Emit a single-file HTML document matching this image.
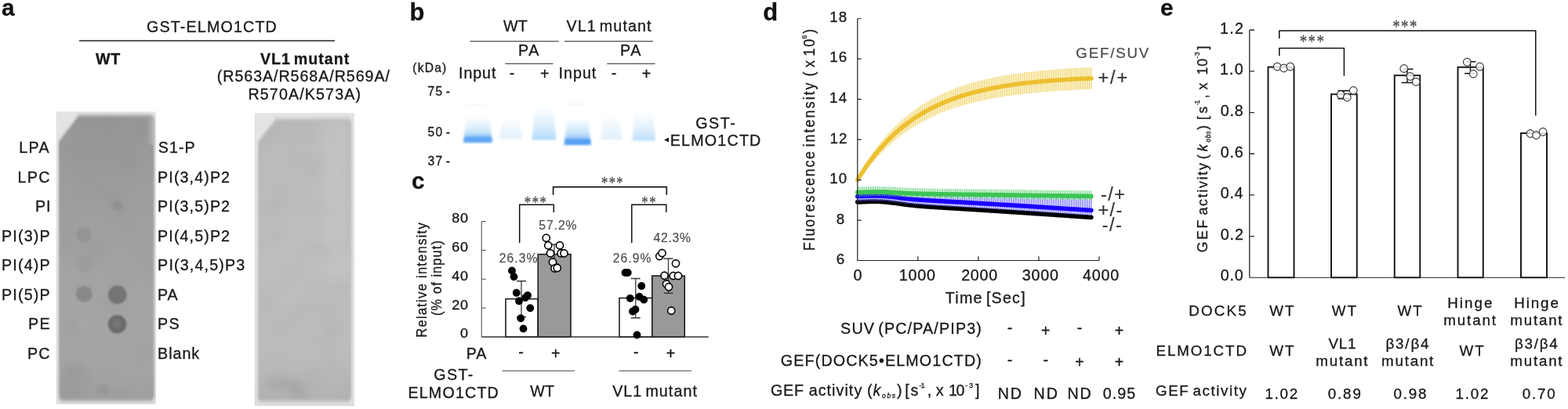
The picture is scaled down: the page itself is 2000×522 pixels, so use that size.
<!DOCTYPE html>
<html lang="en"><head><meta charset="utf-8"><title>Figure</title>
<style>
html,body{margin:0;padding:0;background:#fff;}
body{width:2000px;height:522px;overflow:hidden;}
svg{display:block;font-family:"Liberation Sans",sans-serif;}
svg text{fill:#1a1717;stroke:#1a1717;stroke-width:0.3px;}
svg text{white-space:pre;}
</style></head><body>
<svg width="2000" height="522" viewBox="0 0 2000 522">
<defs>
<filter id="b1" x="-5%" y="-5%" width="110%" height="110%"><feGaussianBlur stdDeviation="0.5"/></filter>
<filter id="b2" x="-8%" y="-5%" width="116%" height="110%"><feGaussianBlur stdDeviation="1.2 2"/></filter>
<filter id="b3" x="-20%" y="-20%" width="140%" height="140%"><feGaussianBlur stdDeviation="1.2"/></filter>
<filter id="b4" x="-40%" y="-40%" width="180%" height="180%"><feGaussianBlur stdDeviation="6"/></filter>
<filter id="nz" x="0" y="0" width="100%" height="100%"><feTurbulence type="fractalNoise" baseFrequency="0.03" numOctaves="1" seed="7"/><feColorMatrix type="matrix" values="2.2 0 0 0 -0.6  2.2 0 0 0 -0.6  2.2 0 0 0 -0.6  0 0 0 0 1"/></filter>
<clipPath id="cp1"><path d="M102 149H193.5V509.5H78V182Z"/></clipPath><clipPath id="cp2"><path d="M354 154H445V510H331.5V183Z"/></clipPath>
<linearGradient id="gOut" x1="0" y1="0" x2="0" y2="1"><stop offset="0" stop-color="#e3e5e4"/><stop offset="1" stop-color="#dedede"/></linearGradient>
<linearGradient id="gEdge" x1="0" y1="0" x2="1" y2="0"><stop offset="0" stop-color="#b5b5b5" stop-opacity="0"/><stop offset="1" stop-color="#c4c4c4" stop-opacity="0.8"/></linearGradient>
<linearGradient id="gR2" x1="0" y1="0" x2="1" y2="0"><stop offset="0" stop-color="#bfbfbf" stop-opacity="0"/><stop offset="0.5" stop-color="#c4c4c4" stop-opacity="0.7"/><stop offset="1" stop-color="#c4c4c4" stop-opacity="0.7"/></linearGradient>
<linearGradient id="gA1" x1="0" y1="0" x2="0" y2="1"><stop offset="0" stop-color="#969696"/><stop offset="0.3" stop-color="#9d9d9d"/><stop offset="0.62" stop-color="#a4a4a4"/><stop offset="0.88" stop-color="#a4a4a4"/><stop offset="1" stop-color="#9e9e9e"/></linearGradient>
<linearGradient id="gA2" x1="0" y1="0" x2="0" y2="1"><stop offset="0" stop-color="#b9b9b9"/><stop offset="0.5" stop-color="#bdbdbd"/><stop offset="0.85" stop-color="#bababa"/><stop offset="1" stop-color="#b2b2b2"/></linearGradient>

<filter id="gb" x="-20%" y="-20%" width="140%" height="140%"><feGaussianBlur stdDeviation="1.5"/></filter>
<filter id="gb2" x="-20%" y="-80%" width="140%" height="260%"><feGaussianBlur stdDeviation="1.3 1.7"/></filter>
<linearGradient id="gl1" x1="0" y1="0" x2="0" y2="1"><stop offset="0" stop-color="#e8f4fd" stop-opacity="0"/><stop offset="0.35" stop-color="#e2f1fc" stop-opacity="0.9"/><stop offset="0.6" stop-color="#c9e4fb"/><stop offset="0.76" stop-color="#a0cdf9"/><stop offset="0.86" stop-color="#72b2f6"/><stop offset="1" stop-color="#5aa2f5"/></linearGradient>
<linearGradient id="gl4" x1="0" y1="0" x2="0" y2="1"><stop offset="0" stop-color="#e8f4fd" stop-opacity="0"/><stop offset="0.3" stop-color="#e2f1fc" stop-opacity="0.9"/><stop offset="0.58" stop-color="#c5e2fb"/><stop offset="0.76" stop-color="#98c8f8"/><stop offset="0.86" stop-color="#69adf6"/><stop offset="1" stop-color="#4f9bf4"/></linearGradient>
<linearGradient id="gl2" x1="0" y1="0" x2="0" y2="1"><stop offset="0" stop-color="#e8f4fd" stop-opacity="0"/><stop offset="0.5" stop-color="#e4f2fc" stop-opacity="0.85"/><stop offset="1" stop-color="#d3eafb"/></linearGradient>
<linearGradient id="gl3" x1="0" y1="0" x2="0" y2="1"><stop offset="0" stop-color="#e8f4fd" stop-opacity="0"/><stop offset="0.45" stop-color="#deeffc" stop-opacity="0.8"/><stop offset="0.85" stop-color="#bddffa"/><stop offset="1" stop-color="#a4d2f8"/></linearGradient>
</defs>
<rect width="2000" height="522" fill="#fff"/>
<text x="2.11" y="20" font-size="29.8" font-weight="bold" letter-spacing="-0.44" style="fill:#111;stroke:#111">a</text>
<text x="187.01" y="40.6" font-size="19.7" letter-spacing="1.15">GST-ELMO1CTD</text>
<path d="M101 52L427 52" stroke="#222" stroke-width="1.3" fill="none"/>
<text x="122" y="81.6" font-size="19.7" font-weight="bold" letter-spacing="0.56">WT</text>
<text x="331.9" y="81.6" font-size="19.7" font-weight="bold" letter-spacing="0.96" word-spacing="-2.5">VL1 mutant</text>
<text x="276.82" y="104.1" font-size="19.7" letter-spacing="0.92">(R563A/R568A/R569A/</text>
<text x="316.42" y="126.6" font-size="19.7" letter-spacing="1.12">R570A/K573A)</text>
<rect x="71.5" y="142.5" width="127.5" height="373.5" fill="url(#gOut)" filter="url(#b1)"/>
<path d="M100.5 147H190Q196.6 147 196.6 153V506Q196.6 511.5 190 511.5H81Q75 511.5 75 506V180.5Z" fill="url(#gA1)" filter="url(#b2)"/>
<rect x="186" y="149" width="11" height="36" fill="url(#gEdge)" filter="url(#b2)"/>
<g clip-path="url(#cp1)"><g filter="url(#b4)"><ellipse cx="95" cy="485" rx="22" ry="22" fill="#979797" opacity="0.6"/><ellipse cx="135" cy="185" rx="50" ry="25" fill="#929292" opacity="0.35"/></g></g>
<g filter="url(#b3)">
<circle cx="107" cy="300" r="10" fill="#909090" opacity="0.75"/>
<circle cx="107" cy="337" r="10.5" fill="#989898" opacity="0.6"/>
<circle cx="107.2" cy="375.2" r="10.5" fill="#878787" opacity="1"/>
<circle cx="149.8" cy="376.2" r="11.8" fill="#747474" opacity="1"/>
<circle cx="149.5" cy="413.8" r="11.8" fill="#6b6b6b" opacity="1"/>
<circle cx="149" cy="263" r="6.5" fill="#8e8e8e" opacity="0.7"/>
<circle cx="130.6" cy="497.3" r="8" fill="#939393" opacity="0.65"/>
<circle cx="106" cy="414.5" r="9" fill="#a8a8a8" opacity="0.3"/>
</g>
<g filter="url(#b3)"><circle cx="149" cy="413" r="6" fill="#7a7a7a" opacity="0.7"/><circle cx="149" cy="375.5" r="6" fill="#777" opacity="0.4"/></g>
<g clip-path="url(#cp1)"><rect x="74" y="145" width="124" height="369" filter="url(#nz)" opacity="0.02"/></g>
<rect x="324.6" y="144.2" width="127.4" height="374" fill="url(#gOut)" filter="url(#b1)"/>
<path d="M352 151.5H442Q448 151.5 448 157V507Q448 512 442 512H334Q329 512 329 507V181Z" fill="url(#gA2)" filter="url(#b2)"/>
<rect x="395" y="153" width="50" height="200" fill="url(#gR2)" filter="url(#b4)"/>
<g clip-path="url(#cp2)"><g filter="url(#b4)"><ellipse cx="360" cy="490" rx="24" ry="9" fill="#a2a2a2" opacity="0.7"/><ellipse cx="380" cy="501" rx="12" ry="6" fill="#a0a0a0" opacity="0.6"/></g></g>
<g clip-path="url(#cp2)"><rect x="327" y="148" width="122" height="366" filter="url(#nz)" opacity="0.018"/></g>
<text x="24.17" y="195.1" font-size="19.7" letter-spacing="1.41">LPA</text>
<text x="22.42" y="232.6" font-size="19.7" letter-spacing="1.35">LPC</text>
<text x="44.92" y="270.1" font-size="19.7" letter-spacing="1.08">PI</text>
<text x="1.92" y="307.6" font-size="19.7" letter-spacing="1.21">PI(3)P</text>
<text x="1.92" y="345.1" font-size="19.7" letter-spacing="1.21">PI(4)P</text>
<text x="1.92" y="382.6" font-size="19.7" letter-spacing="1.21">PI(5)P</text>
<text x="35.92" y="420.1" font-size="19.7" letter-spacing="1.41">PE</text>
<text x="34.92" y="457.6" font-size="19.7" letter-spacing="1.23">PC</text>
<text x="201.81" y="195.1" font-size="19.7" letter-spacing="1.05">S1-P</text>
<text x="201.12" y="232.6" font-size="19.7" letter-spacing="1.1">PI(3,4)P2</text>
<text x="201.12" y="270.1" font-size="19.7" letter-spacing="1.1">PI(3,5)P2</text>
<text x="201.12" y="307.6" font-size="19.7" letter-spacing="1.1">PI(4,5)P2</text>
<text x="201.12" y="345.1" font-size="19.7" letter-spacing="1.15">PI(3,4,5)P3</text>
<text x="201.12" y="382.6" font-size="19.7" letter-spacing="0.75">PA</text>
<text x="201.12" y="420.1" font-size="19.7" letter-spacing="1.26">PS</text>
<text x="201.12" y="457.6" font-size="19.7" letter-spacing="0.96">Blank</text>
<text x="522.49" y="25.5" font-size="31" font-weight="bold" letter-spacing="1.1" style="fill:#111;stroke:#111">b</text>
<text x="641.9" y="40.1" font-size="19.7" letter-spacing="0.36">WT</text>
<text x="722.4" y="40.1" font-size="19.7" letter-spacing="1.11" word-spacing="-2.5">VL1 mutant</text>
<path d="M599.5 52.75L712.5 52.75" stroke="#222" stroke-width="1.2" fill="none"/>
<path d="M720 52.75L833 52.75" stroke="#222" stroke-width="1.2" fill="none"/>
<text x="660.92" y="71.35" font-size="19.7" letter-spacing="1.75">PA</text>
<text x="790.92" y="71.35" font-size="19.7" letter-spacing="1.75">PA</text>
<path d="M644.25 81.25L705.5 81.25" stroke="#222" stroke-width="1.2" fill="none"/>
<path d="M774.25 81.25L835.5 81.25" stroke="#222" stroke-width="1.2" fill="none"/>
<text x="526.36" y="92.1" font-size="15.7" letter-spacing="1.13">(kDa)</text>
<text x="585.03" y="100.3" font-size="19.7" letter-spacing="0.91">Input</text>
<text x="712.43" y="100.3" font-size="19.7" letter-spacing="1.03">Input</text>
<text x="649.8" y="100.1" font-size="19.7">-</text>
<text x="779.7" y="100.1" font-size="19.7">-</text>
<text x="688.99" y="100.85" font-size="19.7">+</text>
<text x="818.74" y="100.85" font-size="19.7">+</text>
<text x="545.47" y="122.1" font-size="15.7" letter-spacing="1.3" word-spacing="-2.5">75 -</text>
<text x="545.62" y="173.85" font-size="15.7" letter-spacing="1.25" word-spacing="-2.5">50 -</text>
<text x="545.62" y="210.85" font-size="15.7" letter-spacing="1.25" word-spacing="-2.5">37 -</text>
<g filter="url(#gb)">
<path d="M595 148L624 148L628 182L591 182Z" fill="url(#gl1)" opacity="1"/>
<path d="M640.5 150L662.5 150L666.5 177L636.5 177Z" fill="url(#gl2)" opacity="0.7"/>
<path d="M682.5 133L705.5 133L709.5 178.5L678.5 178.5Z" fill="url(#gl3)" opacity="0.9"/>
<path d="M723.5 150L750 150L754 185L719.5 185Z" fill="url(#gl4)" opacity="1"/>
<path d="M769.5 147L790 147L793.5 178L766 178Z" fill="url(#gl2)" opacity="0.75"/>
<path d="M810 140L832.5 140L836 179.5L806.5 179.5Z" fill="url(#gl3)" opacity="0.8"/>
</g>
<g filter="url(#gb2)">
<rect x="592" y="174.6" width="35.5" height="5.6" rx="2.8" fill="#5aa2f5" opacity="0.7"/>
<rect x="721" y="177.5" width="32" height="5.6" rx="2.8" fill="#4f9bf4" opacity="0.8"/>
</g>
<g filter="url(#gb2)" opacity="0.5"><rect x="593" y="133.5" width="28" height="1.5" fill="#d5e9fa"/><rect x="721" y="132.5" width="27" height="1.5" fill="#d5e9fa"/></g>
<path d="M847.2 178.6L853 175.6V181.6Z" fill="#111"/>
<text x="887.26" y="164.1" font-size="19.7" letter-spacing="1.54">GST-</text>
<text x="854.67" y="186.35" font-size="19.7" letter-spacing="1.21">ELMO1CTD</text>
<text x="525.06" y="240.8" font-size="29.8" font-weight="bold" letter-spacing="1.3" style="fill:#111;stroke:#111">c</text>
<path d="M705.6 248.1V238.6H850.3V248.1" stroke="#111" stroke-width="1.6" fill="none" stroke-linejoin="round" stroke-linecap="round"/>
<path d="M662.7 309.5V261.2H706.3V270.6" stroke="#111" stroke-width="1.5" fill="none" stroke-linejoin="round" stroke-linecap="round"/>
<path d="M805.8 309.5V261.2H849.8V270.6" stroke="#111" stroke-width="1.5" fill="none" stroke-linejoin="round" stroke-linecap="round"/>
<text transform="translate(766.94 240.35) scale(0.8 1)" font-family="Liberation Serif, serif" font-size="21" letter-spacing="1.62" style="fill:#4d4d4d;stroke:#4d4d4d;stroke-width:0.35px">***</text>
<text transform="translate(668.74 264.75) scale(0.8 1)" font-family="Liberation Serif, serif" font-size="21" letter-spacing="1.88" style="fill:#4d4d4d;stroke:#4d4d4d;stroke-width:0.35px">***</text>
<text transform="translate(818.24 264.75) scale(0.8 1)" font-family="Liberation Serif, serif" font-size="21" letter-spacing="1.88" style="fill:#4d4d4d;stroke:#4d4d4d;stroke-width:0.35px">**</text>
<path d="M614.25 282.5V430" stroke="#555" stroke-width="1.1" fill="none"/>
<path d="M614.25 282.5H619.6" stroke="#555" stroke-width="1.1" fill="none"/>
<path d="M614.25 319.38H619.6" stroke="#555" stroke-width="1.1" fill="none"/>
<path d="M614.25 356.25H619.6" stroke="#555" stroke-width="1.1" fill="none"/>
<path d="M614.25 393.12H619.6" stroke="#555" stroke-width="1.1" fill="none"/>
<text transform="translate(576.3 283.85) scale(1.15 1)" font-size="15.7" letter-spacing="0.6">80</text>
<text transform="translate(576.3 320.85) scale(1.15 1)" font-size="15.7" letter-spacing="0.6">60</text>
<text transform="translate(576.3 357.6) scale(1.15 1)" font-size="15.7" letter-spacing="0.6">40</text>
<text transform="translate(576.3 395.35) scale(1.15 1)" font-size="15.7" letter-spacing="0.6">20</text>
<text transform="translate(587.01 431.1) scale(1.15 1)" font-size="15.7" letter-spacing="0.6">0</text>
<text transform="translate(543.7 430.72) rotate(-90) scale(0.88 1)" font-size="18.8" letter-spacing="1.44" word-spacing="0">Relative intensity</text>
<text transform="translate(563.2 402.99) rotate(-90) scale(0.88 1)" font-size="18.8" letter-spacing="1.18" word-spacing="0">(% of input)</text>
<rect x="645" y="381.51" width="41.25" height="48.49" fill="#fff" stroke="#111" stroke-width="1.5"/>
<rect x="686.25" y="324.54" width="41.75" height="105.46" fill="#999" stroke="#111" stroke-width="1.5"/>
<rect x="790" y="380.4" width="41.75" height="49.6" fill="#fff" stroke="#111" stroke-width="1.5"/>
<rect x="831.75" y="352.01" width="41.5" height="77.99" fill="#999" stroke="#111" stroke-width="1.5"/>
<path d="M659 358.75H671M665 358.75V404.5M659 404.5H671" stroke="#3a3a3a" stroke-width="1.3" fill="none"/>
<path d="M701 312H713M707 312V337M701 337H713" stroke="#3a3a3a" stroke-width="1.3" fill="none"/>
<path d="M804.75 355.5H816.75M810.75 355.5V405.75M804.75 405.75H816.75" stroke="#3a3a3a" stroke-width="1.3" fill="none"/>
<path d="M846.5 330H858.5M852.5 330V374.25M846.5 374.25H858.5" stroke="#3a3a3a" stroke-width="1.3" fill="none"/>
<path d="M614.25 430H903.75" stroke="#333" stroke-width="1.3" fill="none"/>
<circle cx="653" cy="345.5" r="4.9" fill="#000"/>
<circle cx="655.5" cy="353.25" r="4.9" fill="#000"/>
<circle cx="658.75" cy="373.75" r="4.9" fill="#000"/>
<circle cx="673" cy="377" r="4.9" fill="#000"/>
<circle cx="670" cy="380" r="4.9" fill="#000"/>
<circle cx="662" cy="384.25" r="4.9" fill="#000"/>
<circle cx="676.25" cy="393.25" r="4.9" fill="#000"/>
<circle cx="664.25" cy="406.25" r="4.9" fill="#000"/>
<circle cx="667.5" cy="419.5" r="4.9" fill="#000"/>
<circle cx="797.5" cy="348" r="4.9" fill="#000"/>
<circle cx="800.75" cy="348" r="4.9" fill="#000"/>
<circle cx="818.25" cy="365" r="4.9" fill="#000"/>
<circle cx="803.75" cy="380.75" r="4.9" fill="#000"/>
<circle cx="815.5" cy="378.75" r="4.9" fill="#000"/>
<circle cx="821.25" cy="382.5" r="4.9" fill="#000"/>
<circle cx="807" cy="397.5" r="4.9" fill="#000"/>
<circle cx="810.5" cy="395" r="4.9" fill="#000"/>
<circle cx="812.5" cy="427.5" r="4.9" fill="#000"/>
<circle cx="696.75" cy="303.75" r="4.6" fill="#fff" stroke="#000" stroke-width="1.6"/>
<circle cx="699.25" cy="313.25" r="4.6" fill="#fff" stroke="#000" stroke-width="1.6"/>
<circle cx="714" cy="313.25" r="4.6" fill="#fff" stroke="#000" stroke-width="1.6"/>
<circle cx="702" cy="323.25" r="4.6" fill="#fff" stroke="#000" stroke-width="1.6"/>
<circle cx="715.5" cy="323.25" r="4.6" fill="#fff" stroke="#000" stroke-width="1.6"/>
<circle cx="719.5" cy="323.25" r="4.6" fill="#fff" stroke="#000" stroke-width="1.6"/>
<circle cx="705" cy="334.5" r="4.6" fill="#fff" stroke="#000" stroke-width="1.6"/>
<circle cx="707.5" cy="342.5" r="4.6" fill="#fff" stroke="#000" stroke-width="1.6"/>
<circle cx="710.75" cy="342" r="4.6" fill="#fff" stroke="#000" stroke-width="1.6"/>
<circle cx="841.25" cy="327" r="4.6" fill="#fff" stroke="#000" stroke-width="1.6"/>
<circle cx="844.5" cy="323" r="4.6" fill="#fff" stroke="#000" stroke-width="1.6"/>
<circle cx="862" cy="336.25" r="4.6" fill="#fff" stroke="#000" stroke-width="1.6"/>
<circle cx="847.5" cy="351.75" r="4.6" fill="#fff" stroke="#000" stroke-width="1.6"/>
<circle cx="858.75" cy="352" r="4.6" fill="#fff" stroke="#000" stroke-width="1.6"/>
<circle cx="865" cy="352" r="4.6" fill="#fff" stroke="#000" stroke-width="1.6"/>
<circle cx="850" cy="362.5" r="4.6" fill="#fff" stroke="#000" stroke-width="1.6"/>
<circle cx="853" cy="366.25" r="4.6" fill="#fff" stroke="#000" stroke-width="1.6"/>
<circle cx="856.25" cy="396.5" r="4.6" fill="#fff" stroke="#000" stroke-width="1.6"/>
<text x="687.37" y="292.6" font-size="15.7" letter-spacing="0.92" style="fill:#484848;stroke:#484848;stroke-width:0.15">57.2%</text>
<text x="636.72" y="335.1" font-size="15.7" letter-spacing="1.08" style="fill:#484848;stroke:#484848;stroke-width:0.15">26.3%</text>
<text x="781.72" y="335.1" font-size="15.7" letter-spacing="1.08" style="fill:#484848;stroke:#484848;stroke-width:0.15">26.9%</text>
<text x="833.44" y="308.6" font-size="15.7" letter-spacing="0.78" style="fill:#484848;stroke:#484848;stroke-width:0.15">42.3%</text>
<text x="594.67" y="457.5" font-size="19.7" letter-spacing="1">PA</text>
<text x="661.3" y="456" font-size="19.7">-</text>
<text x="807.95" y="456" font-size="19.7">-</text>
<text x="702.99" y="457.75" font-size="19.7">+</text>
<text x="849.74" y="457.75" font-size="19.7">+</text>
<path d="M640.5 473.25L733 473.25" stroke="#444" stroke-width="1.1" fill="none"/>
<path d="M789.5 473.25L882 473.25" stroke="#444" stroke-width="1.1" fill="none"/>
<text x="553.26" y="485.25" font-size="19.7" letter-spacing="1.37">GST-</text>
<text x="520.42" y="507.75" font-size="19.7" letter-spacing="1.17">ELMO1CTD</text>
<text x="676.15" y="505.75" font-size="19.7" letter-spacing="0.36">WT</text>
<text x="781.15" y="505.75" font-size="19.7" letter-spacing="1.06" word-spacing="-2.5">VL1 mutant</text>
<text x="973.26" y="25.5" font-size="31" font-weight="bold" letter-spacing="1.6" style="fill:#111;stroke:#111">d</text>
<path d="M1093.75 254.8V260.97M1096.06 254.68V260.85M1098.37 254.56V260.74M1100.69 254.45V260.63M1103 254.35V260.52M1105.31 254.25V260.43M1107.62 254.17V260.34M1109.93 254.1V260.28M1112.24 254.06V260.23M1114.56 254.04V260.21M1116.87 254.05V260.22M1119.18 254.09V260.26M1121.49 254.16V260.34M1123.8 254.27V260.45M1126.12 254.41V260.59M1128.43 254.59V260.76M1130.74 254.8V260.97M1133.05 255.03V261.21M1135.36 255.29V261.47M1137.68 255.58V261.75M1139.99 255.88V262.05M1142.3 256.19V262.36M1144.61 256.51V262.68M1146.92 256.83V263.01M1149.23 257.15V263.33M1151.55 257.47V263.65M1153.86 257.78V263.96M1156.17 258.08V264.26M1158.48 258.37V264.55M1160.79 258.65V264.82M1163.11 258.91V265.08M1165.42 259.15V265.33M1167.73 259.39V265.56M1170.04 259.61V265.78M1172.35 259.81V265.99M1174.67 260.01V266.18M1176.98 260.19V266.37M1179.29 260.37V266.55M1181.6 260.54V266.72M1183.91 260.7V266.88M1186.22 260.86V267.04M1188.54 261.01V267.19M1190.85 261.16V267.34M1193.16 261.31V267.49M1195.47 261.46V267.63M1197.78 261.6V267.77M1200.1 261.74V267.92M1202.41 261.88V268.06M1204.72 262.02V268.2M1207.03 262.16V268.34M1209.34 262.3V268.48M1211.66 262.45V268.62M1213.97 262.59V268.76M1216.28 262.73V268.9M1218.59 262.87V269.04M1220.9 263.01V269.19M1223.21 263.15V269.33M1225.53 263.29V269.47M1227.84 263.44V269.61M1230.15 263.58V269.76M1232.46 263.72V269.9M1234.77 263.87V270.04M1237.09 264.01V270.19M1239.4 264.16V270.33M1241.71 264.3V270.48M1244.02 264.45V270.62M1246.33 264.59V270.77M1248.65 264.74V270.91M1250.96 264.88V271.06M1253.27 265.03V271.21M1255.58 265.18V271.35M1257.89 265.32V271.5M1260.2 265.47V271.65M1262.52 265.62V271.79M1264.83 265.77V271.94M1267.14 265.92V272.09M1269.45 266.06V272.24M1271.76 266.21V272.39M1274.08 266.36V272.54M1276.39 266.51V272.69M1278.7 266.66V272.84M1281.01 266.81V272.99M1283.32 266.96V273.14M1285.64 267.11V273.29M1287.95 267.26V273.44M1290.26 267.41V273.59M1292.57 267.57V273.74M1294.88 267.72V273.89M1297.19 267.87V274.04M1299.51 268.02V274.2M1301.82 268.17V274.35M1304.13 268.33V274.5M1306.44 268.48V274.65M1308.75 268.63V274.81M1311.07 268.79V274.96M1313.38 268.94V275.11M1315.69 269.09V275.27M1318 269.25V275.42M1320.31 269.4V275.58M1322.63 269.56V275.73M1324.94 269.71V275.89M1327.25 269.87V276.04M1329.56 270.02V276.2M1331.87 270.18V276.35M1334.18 270.33V276.51M1336.5 270.49V276.66M1338.81 270.65V276.82M1341.12 270.8V276.98M1343.43 270.96V277.13M1345.74 271.12V277.29M1348.06 271.27V277.45M1350.37 271.43V277.61M1352.68 271.59V277.76M1354.99 271.75V277.92M1357.3 271.9V278.08M1359.62 272.06V278.24M1361.93 272.22V278.4M1364.24 272.38V278.55M1366.55 272.54V278.71M1368.86 272.7V278.87M1371.17 272.86V279.03M1373.49 273.02V279.19M1375.8 273.17V279.35M1378.11 273.33V279.51M1380.42 273.49V279.67M1382.73 273.65V279.83M1385.05 273.82V279.99M1387.36 273.98V280.15M1389.67 274.14V280.31M1391.98 274.3V280.47" stroke="#000" stroke-width="0.8" fill="none"/>
<path d="M1093.75 257.89L1096.06 257.76L1098.37 257.65L1100.69 257.54L1103 257.43L1105.31 257.34L1107.62 257.26L1109.93 257.19L1112.24 257.15L1114.56 257.13L1116.87 257.14L1119.18 257.18L1121.49 257.25L1123.8 257.36L1126.12 257.5L1128.43 257.68L1130.74 257.88L1133.05 258.12L1135.36 258.38L1137.68 258.66L1139.99 258.96L1142.3 259.28L1144.61 259.6L1146.92 259.92L1149.23 260.24L1151.55 260.56L1153.86 260.87L1156.17 261.17L1158.48 261.46L1160.79 261.73L1163.11 261.99L1165.42 262.24L1167.73 262.47L1170.04 262.69L1172.35 262.9L1174.67 263.1L1176.98 263.28L1179.29 263.46L1181.6 263.63L1183.91 263.79L1186.22 263.95L1188.54 264.1L1190.85 264.25L1193.16 264.4L1195.47 264.54L1197.78 264.69L1200.1 264.83L1202.41 264.97L1204.72 265.11L1207.03 265.25L1209.34 265.39L1211.66 265.53L1213.97 265.67L1216.28 265.81L1218.59 265.96L1220.9 266.1L1223.21 266.24L1225.53 266.38L1227.84 266.52L1230.15 266.67L1232.46 266.81L1234.77 266.96L1237.09 267.1L1239.4 267.24L1241.71 267.39L1244.02 267.53L1246.33 267.68L1248.65 267.82L1250.96 267.97L1253.27 268.12L1255.58 268.26L1257.89 268.41L1260.2 268.56L1262.52 268.71L1264.83 268.85L1267.14 269L1269.45 269.15L1271.76 269.3L1274.08 269.45L1276.39 269.6L1278.7 269.75L1281.01 269.9L1283.32 270.05L1285.64 270.2L1287.95 270.35L1290.26 270.5L1292.57 270.65L1294.88 270.8L1297.19 270.96L1299.51 271.11L1301.82 271.26L1304.13 271.41L1306.44 271.57L1308.75 271.72L1311.07 271.87L1313.38 272.03L1315.69 272.18L1318 272.34L1320.31 272.49L1322.63 272.64L1324.94 272.8L1327.25 272.95L1329.56 273.11L1331.87 273.27L1334.18 273.42L1336.5 273.58L1338.81 273.73L1341.12 273.89L1343.43 274.05L1345.74 274.2L1348.06 274.36L1350.37 274.52L1352.68 274.68L1354.99 274.83L1357.3 274.99L1359.62 275.15L1361.93 275.31L1364.24 275.47L1366.55 275.63L1368.86 275.78L1371.17 275.94L1373.49 276.1L1375.8 276.26L1378.11 276.42L1380.42 276.58L1382.73 276.74L1385.05 276.9L1387.36 277.06L1389.67 277.22L1391.98 277.39" stroke="#000" stroke-width="5.6" fill="none" stroke-linecap="round" stroke-linejoin="round"/>
<path d="M1093.75 243.48V257.11M1096.06 243.28V257M1098.37 243.09V256.89M1100.69 242.91V256.79M1103 242.73V256.69M1105.31 242.56V256.6M1107.62 242.41V256.52M1109.93 242.26V256.46M1112.24 242.14V256.42M1114.56 242.04V256.4M1116.87 241.96V256.4M1119.18 241.92V256.43M1121.49 241.9V256.49M1123.8 241.91V256.59M1126.12 241.95V256.71M1128.43 242.02V256.86M1130.74 242.12V257.04M1133.05 242.25V257.24M1135.36 242.39V257.47M1137.68 242.56V257.71M1139.99 242.74V257.97M1142.3 242.93V258.25M1144.61 243.13V258.52M1146.92 243.33V258.81M1149.23 243.53V259.09M1151.55 243.73V259.36M1153.86 243.92V259.64M1156.17 244.1V259.9M1158.48 244.27V260.15M1160.79 244.44V260.39M1163.11 244.58V260.62M1165.42 244.72V260.84M1167.73 244.85V261.04M1170.04 244.96V261.24M1172.35 245.06V261.42M1174.67 245.16V261.59M1176.98 245.24V261.76M1179.29 245.32V261.91M1181.6 245.39V262.07M1183.91 245.45V262.21M1186.22 245.52V262.35M1188.54 245.57V262.49M1190.85 245.63V262.62M1193.16 245.68V262.76M1195.47 245.73V262.89M1197.78 245.78V263.02M1200.1 245.83V263.14M1202.41 245.88V263.27M1204.72 245.92V263.4M1207.03 245.97V263.53M1209.34 246.02V263.66M1211.66 246.07V263.78M1213.97 246.12V263.91M1216.28 246.17V264.04M1218.59 246.21V264.17M1220.9 246.26V264.3M1223.21 246.31V264.43M1225.53 246.36V264.56M1227.84 246.42V264.69M1230.15 246.47V264.82M1232.46 246.52V264.95M1234.77 246.57V265.09M1237.09 246.62V265.22M1239.4 246.68V265.35M1241.71 246.73V265.48M1244.02 246.78V265.62M1246.33 246.84V265.75M1248.65 246.89V265.89M1250.96 246.95V266.02M1253.27 247V266.16M1255.58 247.06V266.29M1257.89 247.11V266.43M1260.2 247.17V266.57M1262.52 247.23V266.7M1264.83 247.28V266.84M1267.14 247.34V266.98M1269.45 247.4V267.12M1271.76 247.46V267.25M1274.08 247.52V267.39M1276.39 247.58V267.53M1278.7 247.64V267.67M1281.01 247.7V267.81M1283.32 247.76V267.95M1285.64 247.82V268.09M1287.95 247.88V268.23M1290.26 247.94V268.37M1292.57 248V268.52M1294.88 248.06V268.66M1297.19 248.12V268.8M1299.51 248.19V268.94M1301.82 248.25V269.09M1304.13 248.31V269.23M1306.44 248.38V269.37M1308.75 248.44V269.52M1311.07 248.5V269.66M1313.38 248.57V269.8M1315.69 248.63V269.95M1318 248.7V270.09M1320.31 248.76V270.24M1322.63 248.83V270.38M1324.94 248.9V270.53M1327.25 248.96V270.68M1329.56 249.03V270.82M1331.87 249.09V270.97M1334.18 249.16V271.12M1336.5 249.23V271.26M1338.81 249.3V271.41M1341.12 249.36V271.56M1343.43 249.43V271.71M1345.74 249.5V271.86M1348.06 249.57V272.01M1350.37 249.64V272.15M1352.68 249.71V272.3M1354.99 249.78V272.45M1357.3 249.85V272.6M1359.62 249.92V272.75M1361.93 249.99V272.9M1364.24 250.06V273.05M1366.55 250.13V273.2M1368.86 250.2V273.36M1371.17 250.27V273.51M1373.49 250.34V273.66M1375.8 250.42V273.81M1378.11 250.49V273.96M1380.42 250.56V274.11M1382.73 250.63V274.27M1385.05 250.7V274.42M1387.36 250.78V274.57M1389.67 250.85V274.73M1391.98 250.92V274.88" stroke="#5f5bff" stroke-width="1.05" fill="none"/>
<path d="M1093.75 250.68L1096.06 250.56L1098.37 250.46L1100.69 250.35L1103 250.26L1105.31 250.17L1107.62 250.09L1109.93 250.03L1112.24 249.98L1114.56 249.96L1116.87 249.97L1119.18 250L1121.49 250.06L1123.8 250.15L1126.12 250.27L1128.43 250.43L1130.74 250.6L1133.05 250.81L1135.36 251.04L1137.68 251.28L1139.99 251.54L1142.3 251.81L1144.61 252.09L1146.92 252.37L1149.23 252.66L1151.55 252.93L1153.86 253.2L1156.17 253.47L1158.48 253.72L1160.79 253.96L1163.11 254.19L1165.42 254.4L1167.73 254.61L1170.04 254.8L1172.35 254.99L1174.67 255.16L1176.98 255.32L1179.29 255.48L1181.6 255.63L1183.91 255.78L1186.22 255.92L1188.54 256.06L1190.85 256.19L1193.16 256.32L1195.47 256.45L1197.78 256.58L1200.1 256.71L1202.41 256.84L1204.72 256.97L1207.03 257.1L1209.34 257.22L1211.66 257.35L1213.97 257.48L1216.28 257.61L1218.59 257.74L1220.9 257.87L1223.21 258L1225.53 258.13L1227.84 258.26L1230.15 258.39L1232.46 258.52L1234.77 258.65L1237.09 258.79L1239.4 258.92L1241.71 259.05L1244.02 259.19L1246.33 259.32L1248.65 259.46L1250.96 259.59L1253.27 259.73L1255.58 259.86L1257.89 260L1260.2 260.13L1262.52 260.27L1264.83 260.41L1267.14 260.55L1269.45 260.68L1271.76 260.82L1274.08 260.96L1276.39 261.1L1278.7 261.24L1281.01 261.38L1283.32 261.52L1285.64 261.66L1287.95 261.8L1290.26 261.94L1292.57 262.08L1294.88 262.23L1297.19 262.37L1299.51 262.51L1301.82 262.65L1304.13 262.8L1306.44 262.94L1308.75 263.08L1311.07 263.23L1313.38 263.37L1315.69 263.52L1318 263.66L1320.31 263.81L1322.63 263.95L1324.94 264.1L1327.25 264.24L1329.56 264.39L1331.87 264.54L1334.18 264.68L1336.5 264.83L1338.81 264.98L1341.12 265.13L1343.43 265.28L1345.74 265.42L1348.06 265.57L1350.37 265.72L1352.68 265.87L1354.99 266.02L1357.3 266.17L1359.62 266.32L1361.93 266.47L1364.24 266.62L1366.55 266.77L1368.86 266.92L1371.17 267.07L1373.49 267.23L1375.8 267.38L1378.11 267.53L1380.42 267.68L1382.73 267.83L1385.05 267.99L1387.36 268.14L1389.67 268.29L1391.98 268.45" stroke="#1a00ff" stroke-width="5.6" fill="none" stroke-linecap="round" stroke-linejoin="round"/>
<path d="M1093.75 238.59V250.68M1096.06 238.52V250.61M1098.37 238.45V250.54M1100.69 238.38V250.47M1103 238.31V250.4M1105.31 238.24V250.33M1107.62 238.18V250.27M1109.93 238.12V250.21M1112.24 238.07V250.17M1114.56 238.04V250.13M1116.87 238.02V250.11M1119.18 238.02V250.11M1121.49 238.03V250.12M1123.8 238.06V250.15M1126.12 238.1V250.2M1128.43 238.17V250.26M1130.74 238.24V250.34M1133.05 238.34V250.43M1135.36 238.44V250.54M1137.68 238.56V250.65M1139.99 238.69V250.78M1142.3 238.82V250.91M1144.61 238.95V251.05M1146.92 239.09V251.18M1149.23 239.22V251.32M1151.55 239.36V251.45M1153.86 239.48V251.58M1156.17 239.61V251.7M1158.48 239.72V251.81M1160.79 239.83V251.92M1163.11 239.93V252.02M1165.42 240.02V252.12M1167.73 240.11V252.2M1170.04 240.19V252.28M1172.35 240.26V252.35M1174.67 240.32V252.42M1176.98 240.38V252.48M1179.29 240.44V252.53M1181.6 240.49V252.58M1183.91 240.54V252.63M1186.22 240.58V252.67M1188.54 240.62V252.71M1190.85 240.66V252.75M1193.16 240.7V252.79M1195.47 240.73V252.83M1197.78 240.77V252.86M1200.1 240.8V252.9M1202.41 240.84V252.93M1204.72 240.87V252.96M1207.03 240.9V253M1209.34 240.94V253.03M1211.66 240.97V253.06M1213.97 241V253.09M1216.28 241.03V253.13M1218.59 241.06V253.16M1220.9 241.1V253.19M1223.21 241.13V253.22M1225.53 241.16V253.25M1227.84 241.19V253.29M1230.15 241.23V253.32M1232.46 241.26V253.35M1234.77 241.29V253.38M1237.09 241.32V253.41M1239.4 241.35V253.45M1241.71 241.39V253.48M1244.02 241.42V253.51M1246.33 241.45V253.54M1248.65 241.48V253.57M1250.96 241.51V253.61M1253.27 241.55V253.64M1255.58 241.58V253.67M1257.89 241.61V253.7M1260.2 241.64V253.73M1262.52 241.67V253.77M1264.83 241.71V253.8M1267.14 241.74V253.83M1269.45 241.77V253.86M1271.76 241.8V253.89M1274.08 241.83V253.93M1276.39 241.87V253.96M1278.7 241.9V253.99M1281.01 241.93V254.02M1283.32 241.96V254.05M1285.64 241.99V254.09M1287.95 242.03V254.12M1290.26 242.06V254.15M1292.57 242.09V254.18M1294.88 242.12V254.21M1297.19 242.15V254.25M1299.51 242.19V254.28M1301.82 242.22V254.31M1304.13 242.25V254.34M1306.44 242.28V254.37M1308.75 242.31V254.41M1311.07 242.35V254.44M1313.38 242.38V254.47M1315.69 242.41V254.5M1318 242.44V254.53M1320.31 242.47V254.57M1322.63 242.5V254.6M1324.94 242.54V254.63M1327.25 242.57V254.66M1329.56 242.6V254.69M1331.87 242.63V254.73M1334.18 242.66V254.76M1336.5 242.7V254.79M1338.81 242.73V254.82M1341.12 242.76V254.85M1343.43 242.79V254.89M1345.74 242.82V254.92M1348.06 242.86V254.95M1350.37 242.89V254.98M1352.68 242.92V255.01M1354.99 242.95V255.05M1357.3 242.98V255.08M1359.62 243.02V255.11M1361.93 243.05V255.14M1364.24 243.08V255.17M1366.55 243.11V255.21M1368.86 243.14V255.24M1371.17 243.18V255.27M1373.49 243.21V255.3M1375.8 243.24V255.33M1378.11 243.27V255.37M1380.42 243.3V255.4M1382.73 243.34V255.43M1385.05 243.37V255.46M1387.36 243.4V255.49M1389.67 243.43V255.53M1391.98 243.46V255.56" stroke="#55cf6a" stroke-width="1" fill="none"/>
<path d="M1093.75 245.54L1096.06 245.47L1098.37 245.4L1100.69 245.33L1103 245.25L1105.31 245.19L1107.62 245.12L1109.93 245.07L1112.24 245.02L1114.56 244.99L1116.87 244.97L1119.18 244.96L1121.49 244.97L1123.8 245L1126.12 245.05L1128.43 245.11L1130.74 245.19L1133.05 245.29L1135.36 245.39L1137.68 245.51L1139.99 245.63L1142.3 245.76L1144.61 245.9L1146.92 246.04L1149.23 246.17L1151.55 246.3L1153.86 246.43L1156.17 246.55L1158.48 246.67L1160.79 246.78L1163.11 246.88L1165.42 246.97L1167.73 247.06L1170.04 247.13L1172.35 247.21L1174.67 247.27L1176.98 247.33L1179.29 247.39L1181.6 247.44L1183.91 247.48L1186.22 247.53L1188.54 247.57L1190.85 247.61L1193.16 247.64L1195.47 247.68L1197.78 247.72L1200.1 247.75L1202.41 247.78L1204.72 247.82L1207.03 247.85L1209.34 247.88L1211.66 247.92L1213.97 247.95L1216.28 247.98L1218.59 248.01L1220.9 248.04L1223.21 248.08L1225.53 248.11L1227.84 248.14L1230.15 248.17L1232.46 248.2L1234.77 248.24L1237.09 248.27L1239.4 248.3L1241.71 248.33L1244.02 248.36L1246.33 248.4L1248.65 248.43L1250.96 248.46L1253.27 248.49L1255.58 248.52L1257.89 248.56L1260.2 248.59L1262.52 248.62L1264.83 248.65L1267.14 248.68L1269.45 248.72L1271.76 248.75L1274.08 248.78L1276.39 248.81L1278.7 248.84L1281.01 248.88L1283.32 248.91L1285.64 248.94L1287.95 248.97L1290.26 249L1292.57 249.04L1294.88 249.07L1297.19 249.1L1299.51 249.13L1301.82 249.16L1304.13 249.2L1306.44 249.23L1308.75 249.26L1311.07 249.29L1313.38 249.32L1315.69 249.36L1318 249.39L1320.31 249.42L1322.63 249.45L1324.94 249.48L1327.25 249.52L1329.56 249.55L1331.87 249.58L1334.18 249.61L1336.5 249.64L1338.81 249.68L1341.12 249.71L1343.43 249.74L1345.74 249.77L1348.06 249.8L1350.37 249.84L1352.68 249.87L1354.99 249.9L1357.3 249.93L1359.62 249.96L1361.93 250L1364.24 250.03L1366.55 250.06L1368.86 250.09L1371.17 250.12L1373.49 250.16L1375.8 250.19L1378.11 250.22L1380.42 250.25L1382.73 250.28L1385.05 250.32L1387.36 250.35L1389.67 250.38L1391.98 250.41" stroke="#3cc453" stroke-width="5.5" fill="none" stroke-linecap="round" stroke-linejoin="round"/>
<path d="M1093.75 226.24V232.93M1096.06 222.15V229.54M1098.37 218.17V226.25M1100.69 214.31V223.06M1103 210.56V219.95M1105.31 206.91V216.92M1107.62 203.37V213.98M1109.93 199.93V211.12M1112.24 196.59V208.34M1114.56 193.34V205.63M1116.87 190.19V203M1119.18 187.12V200.45M1121.49 184.15V197.96M1123.8 181.25V195.54M1126.12 178.44V193.19M1128.43 175.71V190.91M1130.74 173.06V188.68M1133.05 170.48V186.52M1135.36 167.98V184.42M1137.68 165.55V182.38M1139.99 163.19V180.39M1142.3 160.89V178.46M1144.61 158.66V176.58M1146.92 156.49V174.76M1149.23 154.39V172.98M1151.55 152.34V171.25M1153.86 150.36V169.57M1156.17 148.43V167.94M1158.48 146.55V166.35M1160.79 144.73V164.81M1163.11 142.96V163.31M1165.42 141.24V161.85M1167.73 139.57V160.43M1170.04 137.94V159.05M1172.35 136.37V157.71M1174.67 134.84V156.41M1176.98 133.35V155.14M1179.29 131.9V153.91M1181.6 130.49V152.71M1183.91 129.13V151.54M1186.22 127.8V150.41M1188.54 126.51V149.31M1190.85 125.26V148.23M1193.16 124.05V147.19M1195.47 122.86V146.18M1197.78 121.72V145.2M1200.1 120.6V144.24M1202.41 119.52V143.31M1204.72 118.46V142.4M1207.03 117.44V141.52M1209.34 116.45V140.67M1211.66 115.48V139.83M1213.97 114.54V139.02M1216.28 113.63V138.24M1218.59 112.74V137.47M1220.9 111.88V136.73M1223.21 111.05V136.01M1225.53 110.24V135.3M1227.84 109.45V134.62M1230.15 108.68V133.96M1232.46 107.93V133.31M1234.77 107.21V132.68M1237.09 106.51V132.07M1239.4 105.82V131.48M1241.71 105.16V130.9M1244.02 104.51V130.34M1246.33 103.89V129.79M1248.65 103.28V129.26M1250.96 102.69V128.75M1253.27 102.11V128.25M1255.58 101.55V127.76M1257.89 101.01V127.29M1260.2 100.48V126.82M1262.52 99.97V126.38M1264.83 99.47V125.94M1267.14 98.99V125.52M1269.45 98.52V125.11M1271.76 98.06V124.71M1274.08 97.62V124.32M1276.39 97.19V123.94M1278.7 96.77V123.57M1281.01 96.36V123.21M1283.32 95.97V122.86M1285.64 95.58V122.53M1287.95 95.21V122.2M1290.26 94.85V121.88M1292.57 94.49V121.57M1294.88 94.15V121.27M1297.19 93.82V120.97M1299.51 93.5V120.69M1301.82 93.18V120.41M1304.13 92.88V120.14M1306.44 92.58V119.88M1308.75 92.29V119.62M1311.07 92.01V119.37M1313.38 91.74V119.13M1315.69 91.48V118.9M1318 91.22V118.67M1320.31 90.97V118.45M1322.63 90.73V118.23M1324.94 90.49V118.02M1327.25 90.26V117.82M1329.56 90.04V117.62M1331.87 89.83V117.43M1334.18 89.62V117.24M1336.5 89.41V117.06M1338.81 89.21V116.88M1341.12 89.02V116.71M1343.43 88.83V116.55M1345.74 88.65V116.38M1348.06 88.48V116.22M1350.37 88.3V116.07M1352.68 88.14V115.92M1354.99 87.97V115.78M1357.3 87.82V115.64M1359.62 87.66V115.5M1361.93 87.52V115.37M1364.24 87.37V115.24M1366.55 87.23V115.11M1368.86 87.09V114.99M1371.17 86.96V114.87M1373.49 86.83V114.75M1375.8 86.71V114.64M1378.11 86.59V114.53M1380.42 86.47V114.42M1382.73 86.35V114.32M1385.05 86.24V114.22M1387.36 86.13V114.12M1389.67 86.03V114.03M1391.98 85.93V113.93" stroke="#efcc48" stroke-width="1.05" fill="none"/>
<path d="M1093.75 229.58L1096.06 225.85L1098.37 222.21L1100.69 218.68L1103 215.25L1105.31 211.92L1107.62 208.68L1109.93 205.53L1112.24 202.46L1114.56 199.49L1116.87 196.6L1119.18 193.79L1121.49 191.05L1123.8 188.4L1126.12 185.82L1128.43 183.31L1130.74 180.87L1133.05 178.5L1135.36 176.2L1137.68 173.96L1139.99 171.79L1142.3 169.68L1144.61 167.62L1146.92 165.63L1149.23 163.68L1151.55 161.8L1153.86 159.97L1156.17 158.18L1158.48 156.45L1160.79 154.77L1163.11 153.13L1165.42 151.55L1167.73 150L1170.04 148.5L1172.35 147.04L1174.67 145.62L1176.98 144.24L1179.29 142.9L1181.6 141.6L1183.91 140.34L1186.22 139.11L1188.54 137.91L1190.85 136.75L1193.16 135.62L1195.47 134.52L1197.78 133.46L1200.1 132.42L1202.41 131.41L1204.72 130.43L1207.03 129.48L1209.34 128.56L1211.66 127.66L1213.97 126.78L1216.28 125.93L1218.59 125.11L1220.9 124.31L1223.21 123.53L1225.53 122.77L1227.84 122.03L1230.15 121.32L1232.46 120.62L1234.77 119.95L1237.09 119.29L1239.4 118.65L1241.71 118.03L1244.02 117.43L1246.33 116.84L1248.65 116.27L1250.96 115.72L1253.27 115.18L1255.58 114.66L1257.89 114.15L1260.2 113.65L1262.52 113.17L1264.83 112.71L1267.14 112.25L1269.45 111.81L1271.76 111.38L1274.08 110.97L1276.39 110.56L1278.7 110.17L1281.01 109.79L1283.32 109.42L1285.64 109.05L1287.95 108.7L1290.26 108.36L1292.57 108.03L1294.88 107.71L1297.19 107.4L1299.51 107.09L1301.82 106.8L1304.13 106.51L1306.44 106.23L1308.75 105.96L1311.07 105.69L1313.38 105.44L1315.69 105.19L1318 104.94L1320.31 104.71L1322.63 104.48L1324.94 104.26L1327.25 104.04L1329.56 103.83L1331.87 103.63L1334.18 103.43L1336.5 103.24L1338.81 103.05L1341.12 102.87L1343.43 102.69L1345.74 102.52L1348.06 102.35L1350.37 102.19L1352.68 102.03L1354.99 101.88L1357.3 101.73L1359.62 101.58L1361.93 101.44L1364.24 101.3L1366.55 101.17L1368.86 101.04L1371.17 100.91L1373.49 100.79L1375.8 100.67L1378.11 100.56L1380.42 100.45L1382.73 100.34L1385.05 100.23L1387.36 100.13L1389.67 100.03L1391.98 99.93" stroke="#eec030" stroke-width="5.6" fill="none" stroke-linecap="round" stroke-linejoin="round"/>
<path d="M1093.75 23.75V332.5H1402M1093.75 23.75H1098.5M1093.75 75.21H1098.5M1093.75 126.67H1098.5M1093.75 178.12H1098.5M1093.75 229.58H1098.5M1093.75 281.04H1098.5M1170.81 332.5V327.3M1247.88 332.5V327.3M1324.94 332.5V327.3M1402 332.5V327.3" stroke="#222" stroke-width="1.2" fill="none"/>
<text x="1058.29" y="27.85" font-size="18.7" letter-spacing="1.2">18</text>
<text x="1058.29" y="79.1" font-size="18.7" letter-spacing="1.2">16</text>
<text x="1058.1" y="130.6" font-size="18.7" letter-spacing="1.2">14</text>
<text x="1058.48" y="182.6" font-size="18.7" letter-spacing="1.2">12</text>
<text x="1058.2" y="234.1" font-size="18.7" letter-spacing="1.2">10</text>
<text x="1066.77" y="285.8" font-size="18.7" letter-spacing="1.2">8</text>
<text x="1066.77" y="336.8" font-size="18.7" letter-spacing="1.2">6</text>
<text x="1088.48" y="358.1" font-size="19.7" letter-spacing="0.8">0</text>
<text x="1146.74" y="358.1" font-size="19.7" letter-spacing="0.8">1000</text>
<text x="1226.14" y="358.1" font-size="19.7" letter-spacing="0.8">2000</text>
<text x="1303.73" y="358.1" font-size="19.7" letter-spacing="0.8">3000</text>
<text x="1381.03" y="358.1" font-size="19.7" letter-spacing="0.8">4000</text>
<text x="1205.86" y="387.3" font-size="19.7" letter-spacing="1.21" word-spacing="-2.5">Time [Sec]</text>
<text transform="translate(1039.3 319.92) rotate(-90) scale(0.9 1)" font-size="19.7" letter-spacing="2.07">Fluorescence</text>
<text transform="translate(1039.3 187.45) rotate(-90) scale(0.9 1)" font-size="19.7" letter-spacing="2.34">intensity</text>
<text transform="translate(1039.3 97.56) rotate(-90) scale(0.9 1)" font-size="19.7">(</text>
<text transform="translate(1039.3 85.98) rotate(-90) scale(0.9 1)" font-size="19.7">x</text>
<text transform="translate(1039.3 71.63) rotate(-90) scale(0.9 1)" font-size="19.7" letter-spacing="2.19">10</text>
<text transform="translate(1028.7 49.61) rotate(-90) scale(0.9 1)" font-size="9">6</text>
<text transform="translate(1039.3 43.09) rotate(-90) scale(0.9 1)" font-size="19.7">)</text>
<text x="1372.37" y="73.8" font-size="18.7" letter-spacing="1.81" style="fill:#4a4a4a;stroke:#4a4a4a;stroke-width:0.2">GEF/SUV</text>
<text x="1400.58" y="106.8" font-size="23.5" letter-spacing="1.82" style="fill:#333;stroke:#333;stroke-width:0.2">+/+</text>
<text x="1403.94" y="256.2" font-size="23.5" letter-spacing="1.47" style="fill:#333;stroke:#333;stroke-width:0.2">-/+</text>
<text x="1400.42" y="276.4" font-size="23.5" letter-spacing="1.48" style="fill:#333;stroke:#333;stroke-width:0.2">+/-</text>
<text x="1405.64" y="295.4" font-size="23.5" letter-spacing="1.45" style="fill:#333;stroke:#333;stroke-width:0.2">-/-</text>
<text x="1072.11" y="426.1" font-size="19.7" letter-spacing="1.16" word-spacing="-2.5">SUV (PC/PA/PIP3)</text>
<text x="995.81" y="466.9" font-size="19.7" letter-spacing="1.14">GEF(DOCK5•ELMO1CTD)</text>
<text x="983.01" y="505.4" font-size="19.7" letter-spacing="0.79">GEF</text>
<text x="1031.71" y="505.4" font-size="19.7" letter-spacing="1.05">activity</text>
<text x="1106.12" y="505.4" font-size="19.7">(</text>
<text x="1113.6" y="505.4" font-size="19.7" font-style="italic">k</text>
<text x="1125.04" y="508" font-size="8.5" font-style="italic" letter-spacing="1.62">obs</text>
<text x="1143.9" y="505.4" font-size="19.7">)</text>
<text x="1154.32" y="505.4" font-size="19.7">[</text>
<text x="1161.61" y="505.4" font-size="19.7">s</text>
<text x="1172.27" y="495.4" font-size="9.5" letter-spacing="-1">-1</text>
<text x="1182.63" y="505.4" font-size="19.7">,</text>
<text x="1193.8" y="505.4" font-size="19.7">x</text>
<text x="1210.02" y="505.4" font-size="19.7" letter-spacing="-1.4">10</text>
<text x="1231.17" y="495.4" font-size="9.5" letter-spacing="1.75">-3</text>
<text x="1243.9" y="505.4" font-size="19.7">]</text>
<text x="1284.7" y="425.4" font-size="19.7">-</text>
<text x="1327.99" y="428.5" font-size="19.7">+</text>
<text x="1373.7" y="425.4" font-size="19.7">-</text>
<text x="1421.74" y="428.5" font-size="19.7">+</text>
<text x="1284.7" y="465.9" font-size="19.7">-</text>
<text x="1330.45" y="465.9" font-size="19.7">-</text>
<text x="1371.24" y="469" font-size="19.7">+</text>
<text x="1421.74" y="469" font-size="19.7">+</text>
<text x="1272.67" y="508.6" font-size="19.7" letter-spacing="1.84">ND</text>
<text x="1318.42" y="508.6" font-size="19.7" letter-spacing="2.09">ND</text>
<text x="1361.42" y="508.6" font-size="19.7" letter-spacing="1.84">ND</text>
<text x="1406.71" y="508.6" font-size="19.7" letter-spacing="1.09">0.95</text>
<text x="1480.06" y="20.2" font-size="29.8" font-weight="bold" letter-spacing="1.95" style="fill:#111;stroke:#111">e</text>
<path d="M1593.75 38.25V354.25M1593.75 301.58H1600M1593.75 248.92H1600M1593.75 196.25H1600M1593.75 143.58H1600M1593.75 90.92H1600M1593.75 38.25H1600" stroke="#2a2a2a" stroke-width="1.35" fill="none"/>
<text x="1556.02" y="42.6" font-size="19.7" letter-spacing="1.29">1.2</text>
<text x="1556.02" y="95.35" font-size="19.7" letter-spacing="1.14">1.0</text>
<text x="1556.71" y="147.85" font-size="19.7" letter-spacing="0.85">0.8</text>
<text x="1556.71" y="200.85" font-size="19.7" letter-spacing="0.85">0.6</text>
<text x="1556.71" y="253.35" font-size="19.7" letter-spacing="0.75">0.4</text>
<text x="1556.71" y="305.85" font-size="19.7" letter-spacing="0.95">0.2</text>
<text x="1556.71" y="358.35" font-size="19.7" letter-spacing="0.8">0.0</text>
<text transform="translate(1539.7 322.29) rotate(-90) scale(0.95 1)" font-size="18.8" letter-spacing="2.63">GEF</text>
<text transform="translate(1539.7 274.51) rotate(-90) scale(0.95 1)" font-size="18.8" letter-spacing="1.77">activity</text>
<text transform="translate(1539.7 203.37) rotate(-90) scale(0.95 1)" font-size="18.8">(</text>
<text transform="translate(1539.7 193.17) rotate(-90) scale(0.95 1)" font-size="18.8" font-style="italic">k</text>
<text transform="translate(1544 181.54) rotate(-90) scale(0.95 1)" font-size="8.5" font-style="italic" letter-spacing="0.74">obs</text>
<text transform="translate(1539.7 165.79) rotate(-90) scale(0.95 1)" font-size="18.8">)</text>
<text transform="translate(1539.7 153.05) rotate(-90) scale(0.95 1)" font-size="18.8">[</text>
<text transform="translate(1539.7 144.84) rotate(-90) scale(0.95 1)" font-size="18.8">s</text>
<text transform="translate(1529.7 134.31) rotate(-90) scale(0.95 1)" font-size="9.5" letter-spacing="-1.18">-1</text>
<text transform="translate(1539.7 125.51) rotate(-90) scale(0.95 1)" font-size="18.8">,</text>
<text transform="translate(1539.7 114.38) rotate(-90) scale(0.95 1)" font-size="18.8">x</text>
<text transform="translate(1539.7 95.44) rotate(-90) scale(0.95 1)" font-size="18.8" letter-spacing="0.67">10</text>
<text transform="translate(1529.7 74.81) rotate(-90) scale(0.95 1)" font-size="9.5" letter-spacing="0.46">-3</text>
<text transform="translate(1539.7 63.39) rotate(-90) scale(0.95 1)" font-size="18.8">]</text>
<rect x="1617.5" y="85.6" width="33" height="268.65" fill="#fff" stroke="#111" stroke-width="1.9"/>
<rect x="1698" y="120.3" width="32.75" height="233.95" fill="#fff" stroke="#111" stroke-width="1.9"/>
<rect x="1778.75" y="96.25" width="32.5" height="258" fill="#fff" stroke="#111" stroke-width="1.9"/>
<rect x="1859.5" y="85.75" width="32.25" height="268.5" fill="#fff" stroke="#111" stroke-width="1.9"/>
<rect x="1940" y="170" width="33" height="184.25" fill="#fff" stroke="#111" stroke-width="1.9"/>
<path d="M1593.75 354.25H1996.25" stroke="#222" stroke-width="1.2" fill="none"/>
<path d="M1790 88.25H1802.5M1795 88.25V105.5M1787.5 105.5H1802.5" stroke="#111" stroke-width="1.4" fill="none"/>
<path d="M1871 78.75H1882.5M1875.5 78.75V93.75M1868 93.75H1882" stroke="#111" stroke-width="1.4" fill="none"/>
<path d="M1706.5 115.8H1721M1714 115.8V126M1706.5 126H1721" stroke="#111" stroke-width="1.4" fill="none"/>
<circle cx="1629.25" cy="85" r="4.85" fill="#fff" fill-opacity="0.8" stroke="#3a3a3a" stroke-width="1.1"/>
<circle cx="1637.5" cy="87" r="4.85" fill="#fff" fill-opacity="0.8" stroke="#3a3a3a" stroke-width="1.1"/>
<circle cx="1645.8" cy="85" r="4.85" fill="#fff" fill-opacity="0.8" stroke="#3a3a3a" stroke-width="1.1"/>
<circle cx="1710" cy="120.75" r="4.85" fill="#fff" fill-opacity="0.8" stroke="#3a3a3a" stroke-width="1.1"/>
<circle cx="1718.25" cy="124.25" r="4.85" fill="#fff" fill-opacity="0.8" stroke="#3a3a3a" stroke-width="1.1"/>
<circle cx="1726.25" cy="115.5" r="4.85" fill="#fff" fill-opacity="0.8" stroke="#3a3a3a" stroke-width="1.1"/>
<circle cx="1790.75" cy="87.5" r="4.85" fill="#fff" fill-opacity="0.8" stroke="#3a3a3a" stroke-width="1.1"/>
<circle cx="1798.75" cy="97.5" r="4.85" fill="#fff" fill-opacity="0.8" stroke="#3a3a3a" stroke-width="1.1"/>
<circle cx="1806.25" cy="104.5" r="4.85" fill="#fff" fill-opacity="0.8" stroke="#3a3a3a" stroke-width="1.1"/>
<circle cx="1871.25" cy="79.25" r="4.85" fill="#fff" fill-opacity="0.8" stroke="#3a3a3a" stroke-width="1.1"/>
<circle cx="1887.5" cy="85" r="4.85" fill="#fff" fill-opacity="0.8" stroke="#3a3a3a" stroke-width="1.1"/>
<circle cx="1879.25" cy="94.25" r="4.85" fill="#fff" fill-opacity="0.8" stroke="#3a3a3a" stroke-width="1.1"/>
<circle cx="1952" cy="170.5" r="4.85" fill="#fff" fill-opacity="0.8" stroke="#3a3a3a" stroke-width="1.1"/>
<circle cx="1959.5" cy="172.5" r="4.85" fill="#fff" fill-opacity="0.8" stroke="#3a3a3a" stroke-width="1.1"/>
<circle cx="1968" cy="168.25" r="4.85" fill="#fff" fill-opacity="0.8" stroke="#3a3a3a" stroke-width="1.1"/>
<path d="M1631.75 48.75V39.25H1958.75V147" stroke="#111" stroke-width="1.5" fill="none" stroke-linejoin="round" stroke-linecap="round"/>
<path d="M1631.75 70.75V61.4H1714.4V96.25" stroke="#111" stroke-width="1.5" fill="none" stroke-linejoin="round" stroke-linecap="round"/>
<text transform="translate(1776.15 40.79) scale(0.8 1)" font-family="Liberation Serif, serif" font-size="23.5" letter-spacing="1.94" style="fill:#4d4d4d;stroke:#4d4d4d;stroke-width:0.35px">***</text>
<text transform="translate(1657.65 60.29) scale(0.8 1)" font-family="Liberation Serif, serif" font-size="23.5" letter-spacing="1.88" style="fill:#4d4d4d;stroke:#4d4d4d;stroke-width:0.35px">***</text>
<text x="1516.2" y="403.15" font-size="18.8" letter-spacing="2.2">DOCK5</text>
<text x="1474.5" y="454.4" font-size="18.8" letter-spacing="1.89">ELMO1CTD</text>
<text x="1474.06" y="504.9" font-size="18.8" letter-spacing="1.56" word-spacing="-2.5">GEF activity</text>
<text x="1619.21" y="403.15" font-size="18.8" letter-spacing="2.14">WT</text>
<text x="1698.71" y="403.15" font-size="18.8" letter-spacing="2.14">WT</text>
<text x="1782.51" y="403.15" font-size="18.8" letter-spacing="2.14">WT</text>
<text x="1846.2" y="393" font-size="18.8" letter-spacing="2.02">Hinge</text>
<text x="1841.28" y="415.4" font-size="18.8" letter-spacing="1.88">mutant</text>
<text x="1931.2" y="393" font-size="18.8" letter-spacing="1.9">Hinge</text>
<text x="1926.28" y="415.4" font-size="18.8" letter-spacing="1.78">mutant</text>
<text x="1619.21" y="454.4" font-size="18.8" letter-spacing="2.14">WT</text>
<text x="1694.41" y="445.4" font-size="18.8" letter-spacing="0.86">VL1</text>
<text x="1678.28" y="466.9" font-size="18.8" letter-spacing="1.78">mutant</text>
<text x="1767.43" y="445.4" font-size="18.8" letter-spacing="1.84">β3/β4</text>
<text x="1762.03" y="466.9" font-size="18.8" letter-spacing="1.78">mutant</text>
<text x="1861.41" y="454.4" font-size="18.8" letter-spacing="2.14">WT</text>
<text x="1931.93" y="445.4" font-size="18.8" letter-spacing="1.78">β3/β4</text>
<text x="1926.28" y="466.9" font-size="18.8" letter-spacing="1.78">mutant</text>
<text x="1613.59" y="509.15" font-size="18.8" letter-spacing="1.68">1.02</text>
<text x="1693.75" y="509.15" font-size="18.8" letter-spacing="1.84">0.89</text>
<text x="1777.5" y="509.15" font-size="18.8" letter-spacing="1.81">0.98</text>
<text x="1856.59" y="509.15" font-size="18.8" letter-spacing="1.76">1.02</text>
<text x="1941.75" y="509.15" font-size="18.8" letter-spacing="1.78">0.70</text>
</svg>
</body></html>
